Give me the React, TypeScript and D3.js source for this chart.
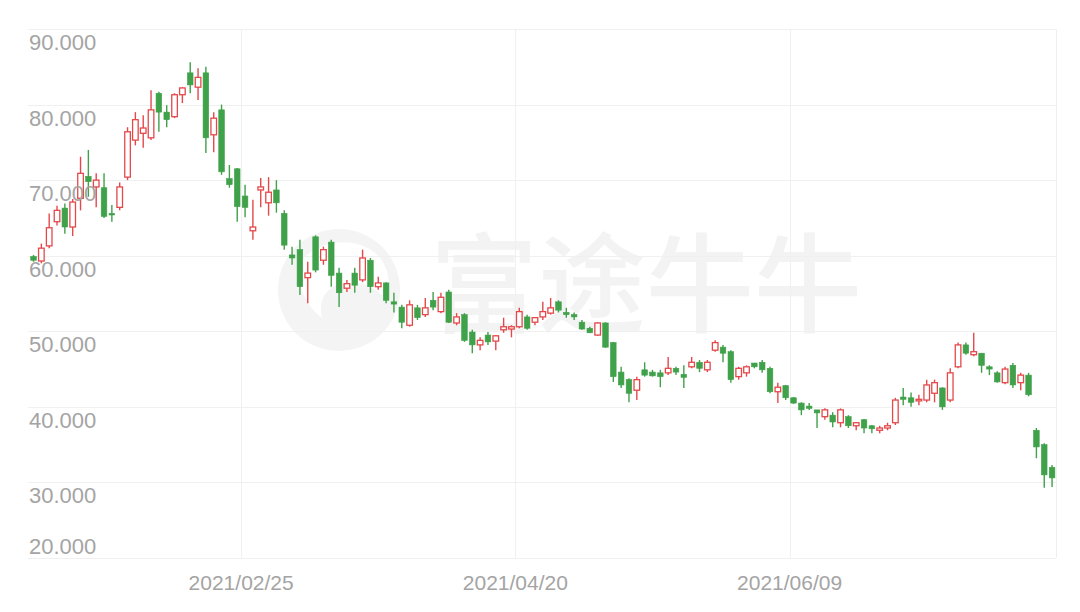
import React, { useEffect, useRef } from "react";
import { select, scaleBand, scaleLinear, range } from "d3";

// daily candles (index 0 = first bar on the left)
const opens = [
  59.9, 59.3, 61.3, 64.5, 66.3, 63.8, 67.6, 70.5, 69.1, 69.0,
  65.6, 66.4, 70.4, 75.3, 76.2, 75.6, 81.5, 79.0, 78.4, 81.3,
  84.2, 82.3, 84.2, 76.0, 79.3, 70.2, 71.5, 67.9, 63.3, 68.7,
  67.0, 68.7, 65.6, 60.1, 60.8, 57.1, 62.5, 59.4, 61.8, 57.7,
  55.7, 57.7, 56.8, 59.4, 55.9, 56.4, 53.9, 53.2, 50.8, 53.1,
  52.2, 54.1, 52.6, 55.2, 51.1, 52.2, 49.9, 48.2, 49.5, 48.7,
  50.2, 50.3, 50.6, 51.9, 51.2, 51.9, 52.4, 53.9, 52.5, 52.2,
  51.2, 50.4, 49.5, 51.1, 48.5, 44.6, 43.6, 42.2, 44.9, 44.6,
  44.5, 44.5, 45.1, 44.3, 45.3, 45.9, 44.9, 47.5, 47.9, 47.3,
  44.0, 44.5, 45.8, 45.9, 45.1, 42.0, 42.8, 41.2, 40.5, 40.1,
  39.6, 38.7, 38.9, 37.9, 38.7, 37.5, 38.3, 37.5, 36.9, 37.2,
  37.9, 41.3, 41.2, 40.8, 40.9, 41.8, 42.5, 40.9, 45.3, 48.2,
  46.9, 47.1, 45.3, 44.5, 43.2, 45.5, 43.2, 44.2, 36.9, 35.0,
  32.0,
];
const highs = [
  60.1, 61.6, 65.6, 66.6, 66.9, 67.5, 73.1, 74.0, 70.9, 70.9,
  66.7, 69.7, 77.0, 79.0, 78.6, 81.9, 81.7, 79.9, 81.5, 82.3,
  85.6, 84.8, 85.0, 79.0, 80.0, 72.0, 71.6, 69.4, 67.4, 70.3,
  70.4, 70.0, 66.0, 61.2, 62.1, 59.2, 62.7, 61.2, 62.1, 58.4,
  56.8, 58.4, 60.8, 59.7, 57.2, 56.5, 55.1, 53.5, 54.1, 53.5,
  54.4, 55.2, 55.1, 55.5, 52.4, 52.4, 50.2, 49.2, 49.9, 49.5,
  51.8, 50.8, 53.1, 52.2, 51.9, 53.9, 54.4, 54.1, 53.1, 52.5,
  51.5, 50.6, 51.2, 51.2, 48.6, 45.3, 43.8, 44.0, 45.9, 44.9,
  44.9, 46.6, 45.3, 45.5, 46.6, 46.2, 46.2, 48.8, 48.2, 47.5,
  45.3, 45.5, 45.8, 46.2, 45.3, 43.2, 42.9, 41.3, 40.6, 40.5,
  39.6, 39.8, 39.3, 39.8, 38.9, 38.0, 38.4, 37.6, 37.5, 37.9,
  41.2, 42.5, 41.9, 41.6, 43.6, 43.6, 42.6, 45.1, 48.5, 48.5,
  49.8, 47.1, 45.5, 44.7, 45.3, 45.8, 44.5, 44.5, 37.2, 35.2,
  32.3,
];
const lows = [
  59.2, 59.0, 61.0, 64.0, 62.9, 62.6, 66.0, 67.8, 66.4, 65.0,
  64.5, 66.0, 70.0, 74.6, 74.3, 75.3, 76.4, 77.0, 78.2, 80.2,
  81.5, 80.6, 73.6, 73.7, 70.7, 69.0, 64.5, 65.1, 62.1, 66.4,
  65.3, 65.7, 60.8, 58.8, 54.8, 53.7, 57.8, 58.8, 55.9, 53.2,
  55.2, 55.1, 56.5, 55.1, 55.5, 53.7, 52.5, 50.4, 50.6, 51.5,
  51.9, 52.8, 52.4, 51.1, 50.8, 48.6, 47.1, 47.5, 48.2, 47.5,
  49.8, 49.2, 50.4, 50.2, 50.8, 51.5, 52.2, 52.5, 51.8, 51.5,
  50.2, 49.8, 49.4, 47.8, 43.3, 42.5, 40.6, 40.9, 44.0, 44.0,
  42.6, 44.2, 44.2, 42.5, 45.1, 44.6, 44.6, 47.3, 45.9, 43.2,
  43.6, 44.0, 45.1, 44.5, 41.8, 40.5, 40.9, 40.4, 38.9, 39.6,
  37.2, 38.3, 37.3, 37.3, 37.2, 36.9, 36.5, 36.5, 36.5, 36.9,
  37.6, 40.2, 40.0, 40.2, 40.6, 40.6, 39.6, 40.6, 45.1, 46.9,
  46.7, 44.5, 44.2, 43.2, 43.0, 42.5, 42.2, 41.4, 33.2, 29.3,
  29.4,
];
const closes = [
  59.4, 61.0, 63.7, 66.0, 63.8, 67.1, 70.9, 69.8, 70.0, 65.2,
  65.4, 69.1, 76.4, 78.0, 76.9, 79.3, 79.0, 78.0, 81.3, 82.2,
  82.6, 83.6, 75.6, 78.2, 71.1, 69.4, 66.5, 66.4, 63.8, 69.1,
  68.4, 67.0, 61.4, 59.7, 55.9, 57.7, 58.1, 60.8, 57.4, 55.1,
  56.3, 56.1, 59.7, 55.9, 56.4, 54.1, 53.6, 51.2, 53.5, 51.8,
  53.1, 53.2, 54.5, 51.2, 51.9, 48.8, 48.2, 48.8, 48.6, 49.4,
  50.6, 50.6, 52.6, 50.4, 51.8, 52.6, 53.1, 52.8, 52.2, 51.9,
  50.3, 49.8, 51.1, 47.9, 44.0, 42.9, 41.8, 43.6, 44.2, 44.1,
  44.0, 45.1, 44.6, 43.9, 45.9, 45.1, 45.9, 48.5, 47.1, 43.6,
  45.1, 45.3, 45.3, 44.9, 42.0, 42.6, 41.2, 40.5, 39.6, 39.8,
  39.2, 39.6, 38.0, 39.6, 37.5, 37.9, 37.2, 37.1, 37.2, 37.5,
  40.9, 41.0, 40.6, 41.0, 42.9, 43.2, 40.0, 44.5, 48.2, 47.1,
  47.3, 45.5, 45.0, 43.3, 45.0, 42.9, 44.2, 41.6, 34.7, 31.0,
  30.6,
];

const yTicks = [20, 30, 40, 50, 60, 70, 80, 90];
const dateTickIndex = [27, 62, 97];
const dateTickLabels = ["2021/02/25", "2021/04/20", "2021/06/09"];

const UP = "#e4484b";
const DOWN = "#3fa149";
const GRID = "#f0f0f0";
const LABEL = "#a4a4a4";

function CandleChart() {
  // eslint-disable-next-line @typescript-eslint/no-explicit-any
  const svgRef: any = useRef();

  useEffect(() => {
    const svg = select(svgRef.current);
    svg.selectAll("*").remove();

    const left = 28;
    const right = 1056;
    const top = 29;
    const bottom = 558;

    const xScale = scaleBand<number>()
      .domain(range(opens.length))
      .range([29.6, right]);
    const yScale = scaleLinear().domain([20, 90]).range([bottom, top]);
    const step = xScale.bandwidth();
    const bodyW = 5.6;
    const cx = (i: number) => (xScale(i) as number) + step / 2;

    // watermark
    const wm = svg.append("g").attr("class", "watermark");
    wm.append("circle")
      .attr("cx", 339)
      .attr("cy", 290)
      .attr("r", 61)
      .attr("fill", "#f4f4f4");
    wm.append("path")
      .attr(
        "d",
        "M300,262 C318,240 352,236 374,252 C388,263 392,282 386,300 C376,286 358,280 340,284 C326,288 318,300 322,318 C306,306 294,282 300,262 Z"
      )
      .attr("fill", "#ffffff");
    wm.append("text")
      .attr("x", 430)
      .attr("y", 324)
      .attr("font-family", "'Noto Sans CJK SC', sans-serif")
      .attr("font-size", 108)
      .attr("font-weight", 500)
      .attr("fill", "#f3f3f3")
      .text("富途牛牛");

    // grid
    const grid = svg.append("g").attr("shape-rendering", "crispEdges");
    grid
      .selectAll(".h-grid")
      .data(yTicks)
      .join("line")
      .attr("class", "h-grid")
      .attr("x1", left)
      .attr("x2", right)
      .attr("y1", (d) => Math.round(yScale(d)) + 0.5)
      .attr("y2", (d) => Math.round(yScale(d)) + 0.5)
      .attr("stroke", GRID);
    grid
      .selectAll(".v-grid")
      .data(dateTickIndex)
      .join("line")
      .attr("class", "v-grid")
      .attr("x1", (d) => Math.round(xScale(d) as number) + 0.5)
      .attr("x2", (d) => Math.round(xScale(d) as number) + 0.5)
      .attr("y1", top)
      .attr("y2", bottom)
      .attr("stroke", GRID);
    grid
      .append("line")
      .attr("x1", right + 0.5)
      .attr("x2", right + 0.5)
      .attr("y1", top)
      .attr("y2", bottom)
      .attr("stroke", GRID);

    // candles
    const candles = svg
      .append("g")
      .selectAll(".candle")
      .data(range(opens.length))
      .join("g")
      .attr("class", "candle");

    candles
      .append("line")
      .attr("x1", (i) => cx(i))
      .attr("x2", (i) => cx(i))
      .attr("y1", (i) => yScale(highs[i]))
      .attr("y2", (i) => yScale(lows[i]))
      .attr("stroke", (i) => (closes[i] >= opens[i] ? UP : DOWN))
      .attr("stroke-width", 1.4);

    candles
      .append("rect")
      .attr("x", (i) => cx(i) - bodyW / 2)
      .attr("width", bodyW)
      .attr("y", (i) => yScale(Math.max(opens[i], closes[i])))
      .attr("height", (i) =>
        Math.max(1.6, Math.abs(yScale(opens[i]) - yScale(closes[i])))
      )
      .attr("fill", (i) => (closes[i] >= opens[i] ? "#ffffff" : DOWN))
      .attr("stroke", (i) => (closes[i] >= opens[i] ? UP : DOWN))
      .attr("stroke-width", (i) => (closes[i] >= opens[i] ? 1.3 : 0.6));

    // y labels: under their grid line, the lowest one above it
    svg
      .append("g")
      .selectAll("text")
      .data(yTicks)
      .join("text")
      .attr("x", 29)
      .attr("y", (d) => (d === 20 ? yScale(d) - 4 : yScale(d) + 21))
      .attr("font-family", "'Liberation Sans', Arial, sans-serif")
      .attr("font-size", 22)
      .attr("fill", LABEL)
      .text((d) => d.toFixed(3));

    // x labels
    svg
      .append("g")
      .selectAll("text")
      .data(dateTickIndex)
      .join("text")
      .attr("x", (d) => xScale(d) as number)
      .attr("y", 590)
      .attr("text-anchor", "middle")
      .attr("font-family", "'Liberation Sans', Arial, sans-serif")
      .attr("font-size", 21)
      .attr("fill", LABEL)
      .text((_d, k) => dateTickLabels[k]);
  }, []);

  return (
    <svg
      ref={svgRef}
      width={1080}
      height={612}
      style={{ position: "absolute", left: 0, top: 0, background: "#ffffff" }}
    />
  );
}

export default function App() {
  return <CandleChart />;
}
